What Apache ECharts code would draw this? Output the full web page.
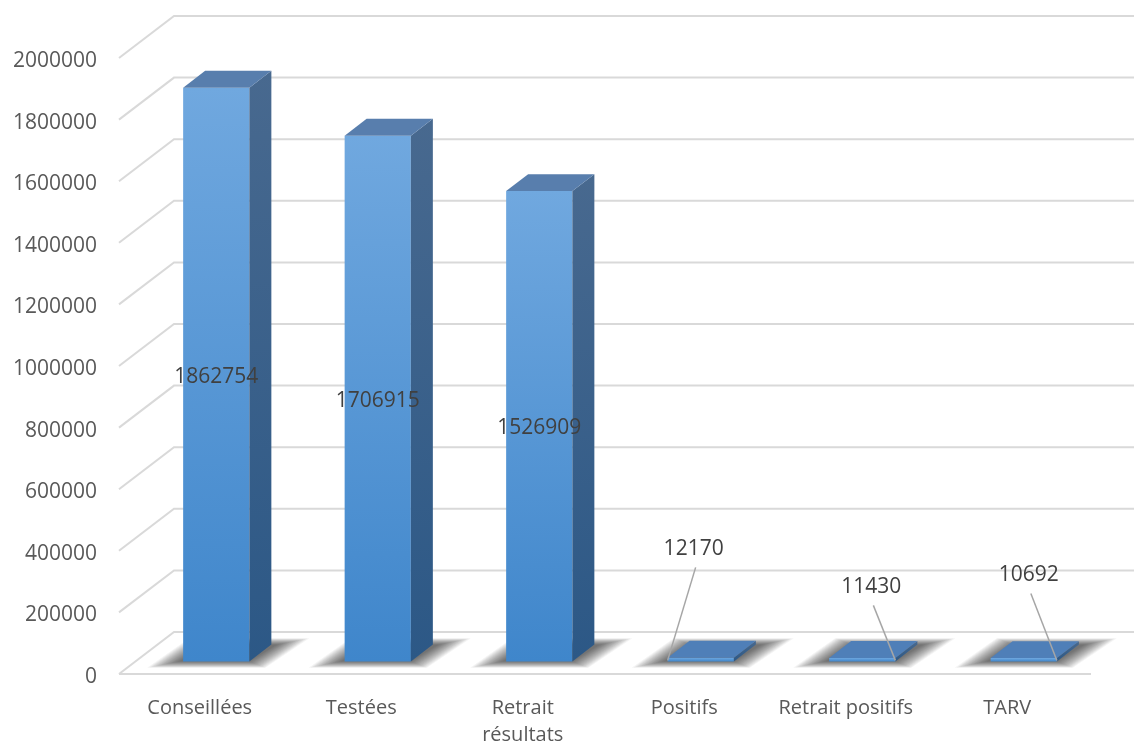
<!DOCTYPE html>
<html>
<head>
<meta charset="utf-8">
<script src="https://cdn.jsdelivr.net/npm/echarts@6/dist/echarts.min.js"></script>
<style>
  html, body { margin: 0; padding: 0; background: #ffffff; }
  #chart { width: 1134px; height: 742px; }
</style>
</head>
<body>
<div id="chart"></div>
<script>
// Catégories et valeurs du dépistage
const categories = ['Conseillées', 'Testées', 'Retrait\nrésultats', 'Positifs', 'Retrait positifs', 'TARV'];
const values = [1862754, 1706915, 1526909, 12170, 11430, 10692];
const yTicks = [0, 200000, 400000, 600000, 800000, 1000000, 1200000, 1400000, 1600000, 1800000, 2000000];

// Perspective: offset (px) from the front plane to the back wall
const DEPTH_X = 55;
const DEPTH_Y = -42;
// Bars sit between these fractions of the depth
const BAR_FRONT = 0.3;
const BAR_BACK = 0.7;
const BAR_RATIO = 0.41;

// Value labels drawn above the flat bars, with a leader line to a bar corner
const callouts = [null, null, null,
  { corner: 'left', dx: 26, dy: -111 },
  { corner: 'right', dx: -24, dy: -73 },
  { corner: 'right', dx: -28, dy: -85 }
];

const FONT = '"Open Sans", sans-serif';
const chart = echarts.init(document.getElementById('chart'), null, { renderer: 'canvas' });

// Gridlines: front diagonal + back wall line, with the tick value on the left
function gridItem(params, api) {
  const cs = params.coordSys;
  const v = api.value(1);
  const y = api.coord([0, v])[1];
  const x0 = cs.x;
  const lineStyle = { stroke: '#d9d9d9', lineWidth: 2, fill: null };
  const children = [{
    type: 'polyline',
    shape: { points: [[x0, y], [x0 + DEPTH_X, y + DEPTH_Y], [api.getWidth(), y + DEPTH_Y]] },
    style: lineStyle
  }, {
    type: 'text',
    style: {
      x: x0 - 22, y: y + 3,
      text: String(v), fill: '#595959',
      font: '21px ' + FONT, align: 'right', verticalAlign: 'middle'
    }
  }];
  if (v === 0) {
    children.push({
      type: 'line',
      shape: { x1: x0, y1: y, x2: x0 + cs.width + 3, y2: y },
      style: lineStyle
    });
  }
  return { type: 'group', children: children };
}

// Soft floor shadow built from stacked, growing translucent parallelograms
function shadowLayers(xl1, xr1, xl2, xr2, yb1, yb2) {
  const layers = [];
  const steps = 16;
  for (let k = steps; k >= 0; k--) {
    const e = k * 2;
    layers.push({
      type: 'polygon',
      silent: true,
      shape: {
        points: [
          [xl1 - 4 - e, yb1 + e * 0.2],
          [xr1 + e * 0.5, yb1 + e * 0.2],
          [xr2 + 6 + e, yb2 - e * 0.2],
          [xl2 - e * 0.5, yb2 - e * 0.2]
        ]
      },
      style: { fill: 'rgba(0,0,0,0.045)' }
    });
  }
  return layers;
}

function barItem(params, api) {
  const i = api.value(0);
  const v = api.value(1);
  const top = api.coord([i, v]);
  const base = api.coord([i, 0]);
  const band = api.size([1, 0])[0];
  const w = band * BAR_RATIO;
  const cx = top[0];
  const fx = DEPTH_X * BAR_FRONT, fy = DEPTH_Y * BAR_FRONT;
  const bx = DEPTH_X * BAR_BACK, by = DEPTH_Y * BAR_BACK;
  const xl1 = cx - w / 2 + fx, xr1 = cx + w / 2 + fx;
  const xl2 = cx - w / 2 + bx, xr2 = cx + w / 2 + bx;
  const yt1 = top[1] + fy, yb1 = base[1] + fy;
  const yt2 = top[1] + by, yb2 = base[1] + by;

  const children = shadowLayers(xl1, xr1, xl2, xr2, yb1, yb2);
  // front face
  children.push({
    type: 'rect',
    shape: { x: xl1, y: yt1, width: xr1 - xl1, height: yb1 - yt1 },
    style: {
      fill: new echarts.graphic.LinearGradient(0, 0, 0, 1, [
        { offset: 0, color: '#70a8df' },
        { offset: 1, color: '#3f86cb' }
      ])
    }
  });
  // side face
  children.push({
    type: 'polygon',
    shape: { points: [[xr1, yt1], [xr2, yt2], [xr2, yb2], [xr1, yb1]] },
    style: {
      fill: new echarts.graphic.LinearGradient(0, 0, 0, 1, [
        { offset: 0, color: '#48698f' },
        { offset: 1, color: '#2c5886' }
      ])
    }
  });
  // top face
  children.push({
    type: 'polygon',
    shape: { points: [[xl1, yt1], [xl2, yt2], [xr2, yt2], [xr1, yt1]] },
    style: { fill: v > 100000 ? '#587ead' : '#4f7fb8' }
  });

  const c = callouts[i];
  if (!c) {
    children.push({
      type: 'text',
      style: {
        x: (xl1 + xr1) / 2, y: (yt1 + yb1) / 2 + 2,
        text: String(v), fill: '#404040',
        font: '21px ' + FONT, align: 'center', verticalAlign: 'middle'
      }
    });
  } else {
    const ax = c.corner === 'left' ? xl1 : xr1;
    const ay = yb1 - 1;
    const lx = ax + c.dx, ly = ay + c.dy;
    children.push({
      type: 'line',
      shape: { x1: lx + 2, y1: ly + 18, x2: ax, y2: ay },
      style: { stroke: '#a6a6a6', lineWidth: 1.5 }
    });
    children.push({
      type: 'text',
      style: {
        x: lx, y: ly,
        text: String(v), fill: '#404040',
        font: '21px ' + FONT, align: 'center', verticalAlign: 'middle'
      }
    });
  }
  return { type: 'group', children: children };
}

chart.setOption({
  animation: false,
  backgroundColor: '#ffffff',
  grid: { left: 119, right: 46, top: 58, bottom: 68, containLabel: false, outerBoundsMode: 'none' },
  xAxis: {
    type: 'category',
    data: categories,
    axisLine: { show: false },
    axisTick: { show: false },
    axisLabel: {
      interval: 0, color: '#595959', fontFamily: FONT, fontSize: 20,
      lineHeight: 27, margin: 21
    }
  },
  yAxis: {
    type: 'value',
    min: 0, max: 2000000, interval: 200000,
    axisLine: { show: false },
    axisTick: { show: false },
    splitLine: { show: false },
    axisLabel: { show: false }
  },
  series: [
    {
      type: 'custom',
      clip: false,
      z: 1,
      silent: true,
      renderItem: gridItem,
      data: yTicks.map(function (t) { return [0, t]; })
    },
    {
      type: 'custom',
      clip: false,
      z: 2,
      renderItem: barItem,
      data: values.map(function (v, i) { return [i, v]; })
    }
  ]
});
</script>
</body>
</html>
